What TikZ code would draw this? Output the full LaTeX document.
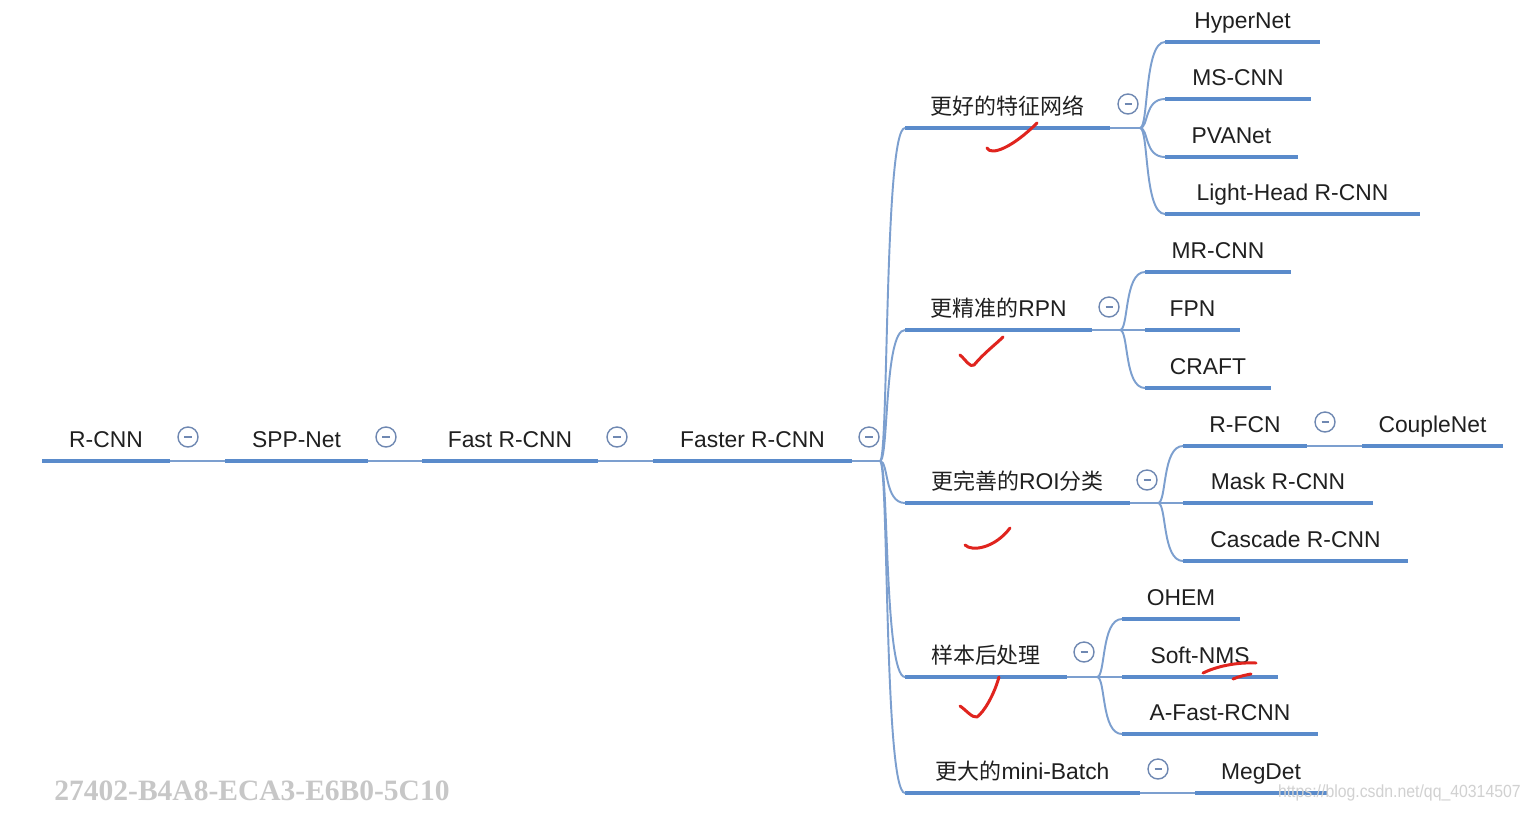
\documentclass[tikz,border=0pt]{standalone}
\usepackage{fontspec}
\setmainfont{Liberation Sans}
\newfontfamily\cjk{Noto Sans CJK SC}
\newfontfamily\wmserif{Liberation Serif}
\definecolor{ulblue}{HTML}{5A8BCB}
\definecolor{thinblue}{HTML}{7C9FCF}
\definecolor{togcol}{HTML}{6F88B2}
\definecolor{txt}{HTML}{202020}
\definecolor{chk}{HTML}{E0241E}
\newcommand\mmnode[5]{%
  \coordinate (#1L) at (#2,#4);
  \coordinate (#1R) at (#3,#4);
  \draw[ul] (#1L) -- (#1R);
  \node[lbl] (#1) at ({(#2+#3)/2},{#4-14}) {#5};}
\newcommand\fan[2]{\draw[thinln] (#1) .. controls ([xshift=5pt]#1) and ([xshift=-12pt]#2) .. (#2);}
\begin{document}
\begin{tikzpicture}[x=0.02cm,y=-0.02cm,
  ul/.style={draw=ulblue,line width=2.8pt},
  thinln/.style={draw=thinblue,line width=1.1pt},
  lbl/.style={anchor=base,inner sep=0pt,text=txt,font=\fontsize{13}{15}\selectfont},
  tog/.style={circle,draw=togcol,line width=0.8pt,minimum size=0.4cm,inner sep=0pt,fill=white,
    path picture={\draw[togcol,line width=0.8pt] ([xshift=-2pt]path picture bounding box.center) -- ([xshift=2pt]path picture bounding box.center);}},
  check/.style={draw=chk,line width=1.7pt,line cap=round,line join=round}]
\useasboundingbox (0,0) rectangle (1531,812);
\fill[white] (0,0) rectangle (1531,812);

% main chain
\mmnode{rcnn}{42}{170}{461}{R-CNN}
\mmnode{spp}{225}{368}{461}{SPP-Net}
\mmnode{fast}{422}{598}{461}{Fast R-CNN}
\mmnode{faster}{653}{852}{461}{Faster R-CNN}
\draw[thinln] (rcnnR) -- (sppL);
\draw[thinln] (sppR) -- (fastL);
\draw[thinln] (fastR) -- (fasterL);
\node[tog] (t1) at (188,437) {};
\node[tog] (t2) at (386,437) {};
\node[tog] (t3) at (617,437) {};
\coordinate (j0) at (880,461);
\draw[thinln] (fasterR) -- (j0);
\node[tog] (t4) at (869,437) {};

% level 2
\mmnode{feat}{905}{1110}{128}{\cjk\fontsize{12.5}{15}\selectfont 更好的特征网络}
\mmnode{rpn}{905}{1092}{330}{{\cjk\fontsize{12.5}{15}\selectfont 更精准的}RPN}
\mmnode{roi}{905}{1130}{503}{{\cjk\fontsize{12.5}{15}\selectfont 更完善的}ROI{\cjk\fontsize{12.5}{15}\selectfont 分类}}
\mmnode{post}{905}{1067}{677}{\cjk\fontsize{12.5}{15}\selectfont 样本后处理}
\mmnode{mini}{905}{1140}{793}{{\cjk\fontsize{12.5}{15}\selectfont 更大的}mini-Batch}
\fan{j0}{featL}
\fan{j0}{rpnL}
\fan{j0}{roiL}
\fan{j0}{postL}
\fan{j0}{miniL}

% feature network children
\coordinate (j1) at (1140,128);
\draw[thinln] (featR) -- (j1);
\node[tog] (t5) at (1128,104) {};
\mmnode{hyper}{1165}{1320}{42}{HyperNet}
\mmnode{ms}{1165}{1311}{99}{MS-CNN}
\mmnode{pva}{1165}{1298}{157}{PVANet}
\mmnode{light}{1165}{1420}{214}{Light-Head R-CNN}
\fan{j1}{hyperL}
\fan{j1}{msL}
\fan{j1}{pvaL}
\fan{j1}{lightL}

% RPN children
\coordinate (j2) at (1120,330);
\draw[thinln] (rpnR) -- (j2);
\node[tog] (t6) at (1109,307) {};
\mmnode{mr}{1145}{1291}{272}{MR-CNN}
\mmnode{fpn}{1145}{1240}{330}{FPN}
\mmnode{craft}{1145}{1271}{388}{CRAFT}
\fan{j2}{mrL}
\draw[thinln] (j2) -- (fpnL);
\fan{j2}{craftL}

% ROI children
\coordinate (j3) at (1158,503);
\draw[thinln] (roiR) -- (j3);
\node[tog] (t7) at (1147,480) {};
\mmnode{rfcn}{1183}{1307}{446}{R-FCN}
\mmnode{mask}{1183}{1373}{503}{Mask R-CNN}
\mmnode{casc}{1183}{1408}{561}{Cascade R-CNN}
\fan{j3}{rfcnL}
\draw[thinln] (j3) -- (maskL);
\fan{j3}{cascL}
\mmnode{couple}{1362}{1503}{446}{CoupleNet}
\draw[thinln] (rfcnR) -- (coupleL);
\node[tog] (t8) at (1325,422) {};

% post-processing children
\coordinate (j4) at (1097,677);
\draw[thinln] (postR) -- (j4);
\node[tog] (t9) at (1084,652) {};
\mmnode{ohem}{1122}{1240}{619}{OHEM}
\mmnode{soft}{1122}{1278}{677}{Soft-NMS}
\mmnode{afast}{1122}{1318}{734}{A-Fast-RCNN}
\fan{j4}{ohemL}
\draw[thinln] (j4) -- (softL);
\fan{j4}{afastL}

% mini-batch child
\mmnode{meg}{1195}{1327}{793}{MegDet}
\draw[thinln] (miniR) -- (megL);
\node[tog] (t10) at (1158,769) {};

% red hand-drawn marks
\draw[check] (987,148) .. controls (991,156) and (1012,148) .. (1037,123);
\draw[check] (960,355) .. controls (966,360) and (970,368) .. (974,365) .. controls (985,352) and (995,345) .. (1003,337);
\draw[check] (965,545) .. controls (972,552) and (995,548) .. (1010,528);
\draw[check] (960,706) .. controls (966,710) and (972,718) .. (977,717) .. controls (984,712) and (994,695) .. (999,677);
\draw[check] (1203,673) .. controls (1215,667) and (1235,662) .. (1256,663);
\draw[check] (1233,679) .. controls (1240,676) and (1246,675) .. (1251,674);

% watermarks
\node[anchor=center,text=black!22,font=\wmserif\bfseries\fontsize{16.8}{19}\selectfont,inner sep=0pt] (wm1) at (252,791) {27402-B4A8-ECA3-E6B0-5C10};
\node[anchor=east,text=black!18,font=\fontsize{10}{12}\selectfont,inner sep=0pt,xscale=0.9] (wm2) at (1521,793) {https://blog.csdn.net/qq\_40314507};
\end{tikzpicture}
\end{document}
